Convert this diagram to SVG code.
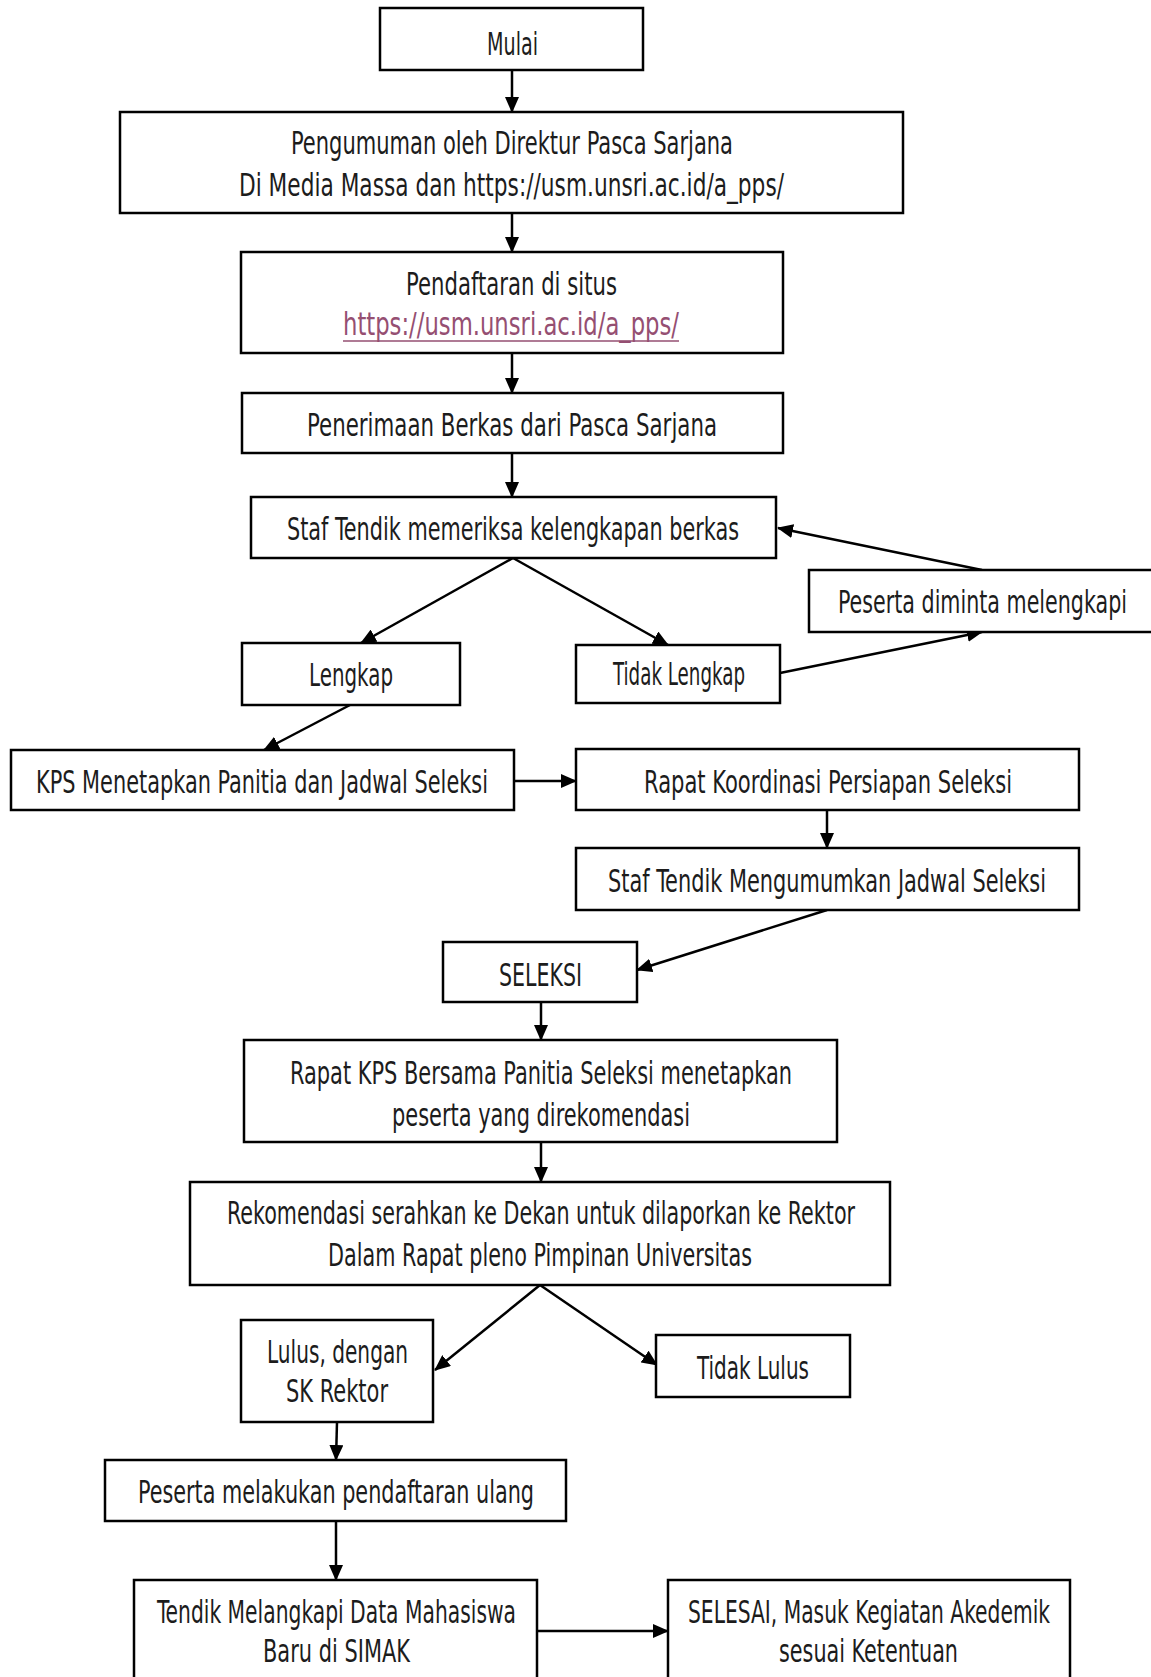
<svg xmlns="http://www.w3.org/2000/svg" width="1151" height="1677" viewBox="0 0 1151 1677">
<style>
  .box { fill: #ffffff; stroke: #000000; stroke-width: 2.5; }
  .t { font-family: "Liberation Sans Narrow", "DejaVu Sans Condensed", "Liberation Sans", sans-serif; font-size: 32px; fill: #1c1c1c; text-anchor: start; }
  .link { fill: #954F72; }
  .c { stroke: #000000; stroke-width: 2.5; fill: none; marker-end: url(#ah); }
</style>
<defs>
  <marker id="ah" markerUnits="userSpaceOnUse" markerWidth="16" markerHeight="14" refX="15" refY="7" orient="auto" viewBox="0 0 16 14">
    <path d="M0,0 L16,7 L0,14 z" fill="#000000"/>
  </marker>
</defs>
<rect width="1151" height="1677" fill="#ffffff"/>

<g id="connectors">
  <line class="c" x1="512" y1="70" x2="512" y2="112"/>
  <line class="c" x1="512" y1="213" x2="512" y2="252"/>
  <line class="c" x1="512" y1="353" x2="512" y2="393"/>
  <line class="c" x1="512" y1="453" x2="512" y2="497"/>
  <line class="c" x1="513" y1="558" x2="361" y2="643"/>
  <line class="c" x1="513" y1="558" x2="668" y2="645"/>
  <line class="c" x1="780" y1="673" x2="982" y2="632"/>
  <line class="c" x1="982" y1="570" x2="778" y2="528"/>
  <line class="c" x1="350" y1="705" x2="264" y2="750"/>
  <line class="c" x1="514" y1="781" x2="576" y2="781"/>
  <line class="c" x1="827" y1="810" x2="827" y2="848"/>
  <line class="c" x1="827" y1="910" x2="637" y2="970"/>
  <line class="c" x1="541" y1="1002" x2="541" y2="1040"/>
  <line class="c" x1="541" y1="1142" x2="541" y2="1182"/>
  <line class="c" x1="540" y1="1285" x2="435" y2="1370"/>
  <line class="c" x1="540" y1="1285" x2="657" y2="1365"/>
  <line class="c" x1="337" y1="1422" x2="336" y2="1460"/>
  <line class="c" x1="336" y1="1521" x2="336" y2="1580"/>
  <line class="c" x1="537" y1="1631" x2="668" y2="1631"/>
</g>

<g id="mulai">
  <rect class="box" x="380" y="8" width="263" height="62"/>
  <text class="t" x="487" y="55" textLength="51" lengthAdjust="spacingAndGlyphs">Mulai</text>
</g>
<g id="pengumuman">
  <rect class="box" x="120" y="112" width="783" height="101"/>
  <text class="t" x="291" y="154" textLength="442" lengthAdjust="spacingAndGlyphs">Pengumuman oleh Direktur Pasca Sarjana</text>
  <text class="t" x="239" y="196" textLength="545" lengthAdjust="spacingAndGlyphs">Di Media Massa dan https://usm.unsri.ac.id/a_pps/</text>
</g>
<g id="pendaftaran">
  <rect class="box" x="241" y="252" width="542" height="101"/>
  <text class="t" x="406" y="295" textLength="211" lengthAdjust="spacingAndGlyphs">Pendaftaran di situs</text>
  <text class="t link" x="343" y="335" textLength="336" lengthAdjust="spacingAndGlyphs">https://usm.unsri.ac.id/a_pps/</text>
  <line x1="343" y1="341" x2="679" y2="341" stroke="#954F72" stroke-width="1.6"/>
</g>
<g id="penerimaan">
  <rect class="box" x="242" y="393" width="541" height="60"/>
  <text class="t" x="307" y="436" textLength="410" lengthAdjust="spacingAndGlyphs">Penerimaan Berkas dari Pasca Sarjana</text>
</g>
<g id="staf-memeriksa">
  <rect class="box" x="251" y="497" width="525" height="61"/>
  <text class="t" x="287" y="540" textLength="452" lengthAdjust="spacingAndGlyphs">Staf Tendik memeriksa kelengkapan berkas</text>
</g>
<g id="peserta-diminta">
  <rect class="box" x="809" y="570" width="360" height="62"/>
  <text class="t" x="838" y="613" textLength="289" lengthAdjust="spacingAndGlyphs">Peserta diminta melengkapi</text>
</g>
<g id="lengkap">
  <rect class="box" x="242" y="643" width="218" height="62"/>
  <text class="t" x="309" y="686" textLength="84" lengthAdjust="spacingAndGlyphs">Lengkap</text>
</g>
<g id="tidak-lengkap">
  <rect class="box" x="576" y="645" width="204" height="58"/>
  <text class="t" x="613" y="685" textLength="132" lengthAdjust="spacingAndGlyphs">Tidak Lengkap</text>
</g>
<g id="kps">
  <rect class="box" x="11" y="750" width="503" height="60"/>
  <text class="t" x="36" y="793" textLength="452" lengthAdjust="spacingAndGlyphs">KPS Menetapkan Panitia dan Jadwal Seleksi</text>
</g>
<g id="rapat-koordinasi">
  <rect class="box" x="576" y="749" width="503" height="61"/>
  <text class="t" x="644" y="793" textLength="368" lengthAdjust="spacingAndGlyphs">Rapat Koordinasi Persiapan Seleksi</text>
</g>
<g id="staf-mengumumkan">
  <rect class="box" x="576" y="848" width="503" height="62"/>
  <text class="t" x="608" y="892" textLength="438" lengthAdjust="spacingAndGlyphs">Staf Tendik Mengumumkan Jadwal Seleksi</text>
</g>
<g id="seleksi">
  <rect class="box" x="443" y="942" width="194" height="60"/>
  <text class="t" x="499" y="986" textLength="83" lengthAdjust="spacingAndGlyphs">SELEKSI</text>
</g>
<g id="rapat-kps">
  <rect class="box" x="244" y="1040" width="593" height="102"/>
  <text class="t" x="290" y="1084" textLength="502" lengthAdjust="spacingAndGlyphs">Rapat KPS Bersama Panitia Seleksi menetapkan</text>
  <text class="t" x="392" y="1126" textLength="298" lengthAdjust="spacingAndGlyphs">peserta yang direkomendasi</text>
</g>
<g id="rekomendasi">
  <rect class="box" x="190" y="1182" width="700" height="103"/>
  <text class="t" x="227" y="1224" textLength="628" lengthAdjust="spacingAndGlyphs">Rekomendasi serahkan ke Dekan untuk dilaporkan ke Rektor</text>
  <text class="t" x="328" y="1266" textLength="424" lengthAdjust="spacingAndGlyphs">Dalam Rapat pleno Pimpinan Universitas</text>
</g>
<g id="lulus">
  <rect class="box" x="241" y="1320" width="192" height="102"/>
  <text class="t" x="267" y="1363" textLength="141" lengthAdjust="spacingAndGlyphs">Lulus, dengan</text>
  <text class="t" x="286" y="1402" textLength="102" lengthAdjust="spacingAndGlyphs">SK Rektor</text>
</g>
<g id="tidak-lulus">
  <rect class="box" x="656" y="1335" width="194" height="62"/>
  <text class="t" x="697" y="1379" textLength="112" lengthAdjust="spacingAndGlyphs">Tidak Lulus</text>
</g>
<g id="daftar-ulang">
  <rect class="box" x="105" y="1460" width="461" height="61"/>
  <text class="t" x="138" y="1503" textLength="396" lengthAdjust="spacingAndGlyphs">Peserta melakukan pendaftaran ulang</text>
</g>
<g id="tendik-simak">
  <rect class="box" x="134" y="1580" width="403" height="110"/>
  <text class="t" x="157" y="1623" textLength="359" lengthAdjust="spacingAndGlyphs">Tendik Melangkapi Data Mahasiswa</text>
  <text class="t" x="263" y="1662" textLength="147" lengthAdjust="spacingAndGlyphs">Baru di SIMAK</text>
</g>
<g id="selesai">
  <rect class="box" x="668" y="1580" width="402" height="110"/>
  <text class="t" x="688" y="1623" textLength="362" lengthAdjust="spacingAndGlyphs">SELESAI, Masuk Kegiatan Akedemik</text>
  <text class="t" x="779" y="1662" textLength="179" lengthAdjust="spacingAndGlyphs">sesuai Ketentuan</text>
</g>
</svg>
